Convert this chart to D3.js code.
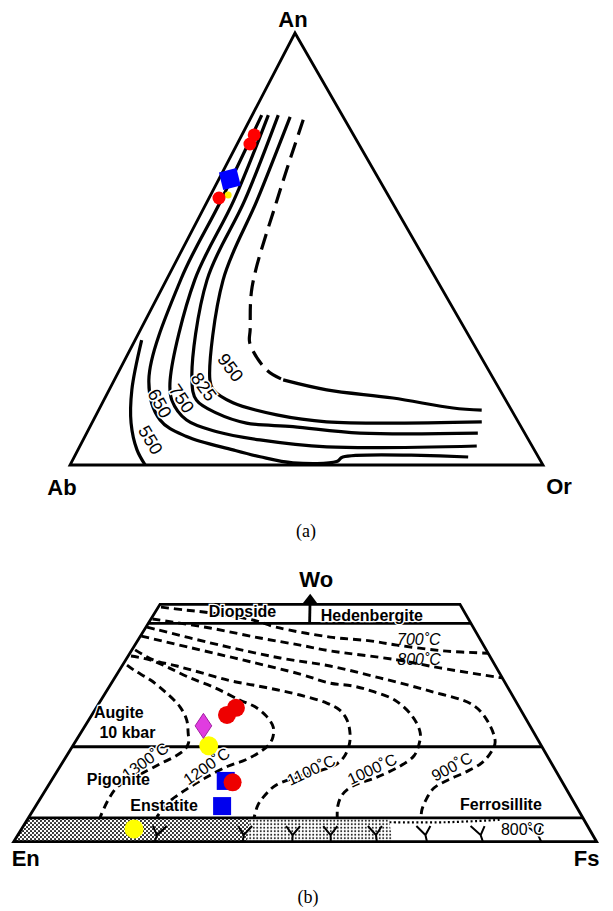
<!DOCTYPE html>
<html>
<head>
<meta charset="utf-8">
<script src="https://cdn.jsdelivr.net/npm/d3@7/dist/d3.min.js"></script>
<style>
  body { margin: 0; background: #fff; }
  svg text { font-family: "Liberation Sans", Arial, sans-serif; fill: #000; }
</style>
</head>
<body>
<svg id="chart" width="613" height="911"></svg>
<script>
const WIDTH = 613;
const HEIGHT = 911;

// ---------- (a) feldspar ternary, points are [An %, Or %] ----------
const feldsparVertices = [[100, 0], [0, 0], [0, 100]];
const feldsparCorners = ['An', 'Ab', 'Or'];

const isoShort = [[28.9, 1.4], [17.4, 4.8], [9.7, 8.3], [3.5, 12.5], [0, 15.9]];
const isoA = [[81, 2], [61, 2.8], [43, 3], [19.7, 7.3], [10.4, 14.1], [6.6, 21.5], [3.5, 32.8],
              [1.9, 39.3], [0.5, 46.9], [0.8, 56], [1.85, 56.8], [1.85, 83.3]];
const isoB = [[81, 3.4], [61.3, 5.5], [42.8, 6.0], [19.7, 11.8], [15, 14.4], [10.4, 19.7],
              [7.7, 27.4], [5.8, 37.4], [4.2, 52.3], [4.4, 83.9]];
const isoC = [[81, 5.5], [61.3, 7.8], [42.8, 8.6], [19.7, 16.4], [15, 19.6], [12, 25.3],
              [9.7, 32.7], [8.9, 42.9], [7.4, 57.8], [7.4, 82.7]];
const isoD = [[80.6, 8.2], [61.3, 10.4], [42.8, 12], [19.7, 20.2], [17.4, 22], [14.4, 27.6],
              [11.6, 38.2], [10, 49.5], [10, 82.3]];
const isoEDashed = [[79.9, 11.3], [61.3, 14.6], [41.2, 18.9], [31.3, 23.2], [28.2, 24.6],
                    [22, 31.1], [19.7, 35.7]];
const isoESolid = [[19.7, 35.7], [17.4, 46], [15.5, 60.9], [13.2, 74.7], [12.7, 81]];

const feldsparLabels = ['550', '650', '750', '825', '950'];
const feldsparLabelPos = [[5.8, 14.3], [14.3, 12.2], [15.4, 16.3], [18.1, 19.7], [22.6, 23.2]];

const plagRed = [[76.4, 2.6], [74.3, 2.7], [61.8, 2.1]];
const plagBlue = [[66.2, 2.3]];
const plagYellow = [[62.5, 3.7]];

// ---------- (b) pyroxene quadrilateral, points are [Wo %, Fs# %] ----------
const pyxOutline = [[0, 0], [50, 0], [50, 100], [0, 100]];
const woLines = [5, 20, 46];
const pyxCorners = ['En', 'Fs', 'Wo'];

const iso700 = [[49.4, 0.9], [48.8, 9.3], [48.2, 17.8], [46.7, 32.2], [45.2, 39.7], [43.1, 56.1],
                [42.3, 67.7], [41.4, 75.2], [40.2, 87.7], [39.7, 100]];
const iso800 = [[46.9, 0.5], [45, 19.7], [42.9, 35.5], [41.4, 47.4], [40.2, 55.9], [38.3, 74.1],
                [36.6, 84.9], [34.5, 100]];
const iso900 = [[45.2, 0.3], [41.4, 24.4], [38.7, 42.1], [37, 55.7], [34.5, 68.4], [31.7, 80.2],
                [28.8, 89.3], [25.2, 91.0], [21, 90.5], [18.9, 88.7], [16.6, 85.8], [14.7, 81.9],
                [13, 77.8], [11.3, 74.6], [8.8, 72.5], [6.7, 71.3], [5, 70.8]];
const iso1000 = [[43.3, 0.3], [40.4, 19.2], [37.9, 34.1], [35.3, 47.8], [33.4, 55.5], [32.8, 61.2],
                 [31.7, 65.8], [29.8, 71], [26.3, 74.2], [22.9, 74.9], [20.4, 73.9], [18.1, 72.3],
                 [15.9, 68.9], [13.4, 63.5], [11.7, 58.9], [9.8, 56.8], [7.5, 55.9], [5, 55.7]];
const iso1100 = [[40.4, 0.9], [38.3, 7.5], [37, 14.7], [35.5, 22.3], [33.9, 30], [33, 36], [32, 42.2],
                 [30.9, 48], [29.2, 54.5], [27.7, 57.5], [25.6, 59], [22.9, 59.4], [20.4, 59],
                 [17.6, 57.5], [15.9, 55.3], [13.8, 48.7], [11.9, 44.1], [9.8, 42.2], [7.7, 41.1], [5, 40.7]];
const iso1200 = [[39.1, 0.8], [38.3, 6.6], [36.8, 12.2], [34.7, 18.8], [32.6, 26.1], [29.8, 33.6],
                 [28.4, 37.5], [26.5, 40.4], [24.2, 42.3], [22.1, 42.5], [20.4, 41.8], [18.9, 40.1],
                 [17.2, 37.3], [15.9, 34], [13.4, 30], [10.7, 26.6], [8.2, 24.3], [5.2, 23.1]];
const iso1300 = [[37.2, 1.2], [36, 4.2], [34.1, 9.4], [31.3, 15.1], [28.4, 19.7], [25.6, 22.4],
                 [22.9, 23.7], [20.8, 24.5], [19.5, 24.2], [18.1, 22.8], [16.4, 20.1], [13.6, 16.1],
                 [11.7, 13.6], [8.8, 12.9], [5, 12.9]];

const tempLabels = ['700˚C', '800˚C', '900˚C', '1000˚C', '1100˚C', '1200˚C', '1300˚C', '800˚C'];
const tempLabelPos = [[42.7, 82.1], [38.3, 80.1], [15.8, 79.4], [15.3, 63.2], [15.1, 50.9],
                      [15.9, 29.7], [17, 16.8], [2.5, 88.2]];

const regionNames = ['Diopside', 'Hedenbergite', 'Augite', '10 kbar', 'Pigonite', 'Enstatite', 'Ferrosillite'];
const regionPos = [[48.4, 28.2], [47.6, 69.8], [27.3, 5.9], [23.1, 10.2], [13.2, 13.0], [7.7, 23.7], [7.8, 86.2]];

const bandDense = [0, 40];
const bandLight = [40, 65];
const bandDotted = [65, 85];
const yMarks = [24.2, 39.3, 47.8, 54.4, 62.3, 70.9, 80.5, 90.5];

const pyxRed = [[26.7, 31.3], [28.2, 33.0], [12.5, 35.6]];
const pyxBlue = [[12.8, 34.2], [7.5, 34.5]];
const pyxYellow = [[20.2, 29.0], [2.7, 19.8]];
const pyxMagenta = [[24.4, 26.6]];

const svg = d3.select('#chart');

// ---------- scales ----------
// (a) An runs up the page, Or along the base, the apex leans left a little
const anY = d3.scaleLinear().domain([0, 100]).range([465, 33]);
const orX = d3.scaleLinear().domain([0, 100]).range([70, 543]);
const anLean = d3.scaleLinear().domain([0, 100]).range([0, 225]);
function tern(p) {
  return [orX(p[1]) + anLean(p[0]), anY(p[0])];
}

// (b) Wo runs up the page, Fs# across between the two slanted sides
const woY = d3.scaleLinear().domain([0, 50]).range([841.7, 604.3]);
const leftX = d3.scaleLinear().domain([0, 50]).range([13.7, 160]);
const rightX = d3.scaleLinear().domain([0, 50]).range([596.6, 460]);
function quad(p) {
  const l = leftX(p[0]);
  const r = rightX(p[0]);
  return [l + (r - l) * p[1] / 100, woY(p[0])];
}

const smooth = d3.curveCatmullRom.alpha(0.5);
const ternLine = d3.line().x(d => tern(d)[0]).y(d => tern(d)[1]).curve(smooth);
const quadLine = d3.line().x(d => quad(d)[0]).y(d => quad(d)[1]).curve(smooth);
const quadPoly = d3.line().x(d => quad(d)[0]).y(d => quad(d)[1]);

// ---------- (a) ----------
const gA = svg.append('g');

gA.append('path')
  .attr('d', d3.line().x(d => tern(d)[0]).y(d => tern(d)[1])(feldsparVertices) + 'Z')
  .attr('fill', 'none')
  .attr('stroke', '#000')
  .attr('stroke-width', 2.8)
  .attr('stroke-linejoin', 'miter');

[isoShort, isoA, isoB, isoC, isoD, isoESolid].forEach(c => {
  gA.append('path')
    .attr('d', ternLine(c))
    .attr('fill', 'none')
    .attr('stroke', '#000')
    .attr('stroke-width', 3.2);
});
gA.append('path')
  .attr('d', ternLine(isoEDashed))
  .attr('fill', 'none')
  .attr('stroke', '#000')
  .attr('stroke-width', 3.2)
  .attr('stroke-dasharray', '16,8');

const featherAngles = [59, 61, 56, 54, 53];
gA.selectAll('text.iso')
  .data(feldsparLabels)
  .enter()
  .append('text')
  .attr('class', 'iso')
  .attr('transform', (d, i) => {
    const p = tern(feldsparLabelPos[i]);
    return 'translate(' + p[0] + ',' + p[1] + ') rotate(' + featherAngles[i] + ')';
  })
  .attr('text-anchor', 'middle')
  .attr('dy', '0.35em')
  .attr('font-size', 18)
  .attr('stroke', '#fff')
  .attr('stroke-width', 3)
  .attr('paint-order', 'stroke')
  .text(d => d);

// plotted plagioclase analyses
gA.selectAll('circle.py')
  .data(plagYellow)
  .enter()
  .append('circle')
  .attr('cx', d => tern(d)[0])
  .attr('cy', d => tern(d)[1])
  .attr('r', 3.5)
  .attr('fill', '#ffee00');
gA.selectAll('circle.pr')
  .data(plagRed)
  .enter()
  .append('circle')
  .attr('cx', d => tern(d)[0])
  .attr('cy', d => tern(d)[1])
  .attr('r', 6.5)
  .attr('fill', '#ff0000');
gA.selectAll('rect.pb')
  .data(plagBlue)
  .enter()
  .append('rect')
  .attr('x', -9)
  .attr('y', -9)
  .attr('width', 18)
  .attr('height', 18)
  .attr('transform', d => 'translate(' + tern(d)[0] + ',' + tern(d)[1] + ') rotate(-14)')
  .attr('fill', '#0000ff');

const cornerOffsets = [[-2, -6], [-8, 30], [16, 29]];
gA.selectAll('text.corner')
  .data(feldsparCorners)
  .enter()
  .append('text')
  .attr('x', (d, i) => tern(feldsparVertices[i])[0] + cornerOffsets[i][0])
  .attr('y', (d, i) => tern(feldsparVertices[i])[1] + cornerOffsets[i][1])
  .attr('text-anchor', 'middle')
  .attr('font-size', 22)
  .attr('font-weight', 'bold')
  .text(d => d);

svg.append('text')
  .attr('x', 306)
  .attr('y', 537)
  .attr('text-anchor', 'middle')
  .style('font-family', '"Liberation Serif", "DejaVu Serif", serif')
  .attr('font-size', 18)
  .text('(a)');

// ---------- (b) ----------
const gB = svg.append('g');

// stippled band along the En-Fs join
const defs = svg.append('defs');
const dense = defs.append('pattern')
  .attr('id', 'dense')
  .attr('width', 4)
  .attr('height', 4)
  .attr('patternUnits', 'userSpaceOnUse');
dense.append('circle').attr('cx', 1).attr('cy', 1).attr('r', 1.05).attr('fill', '#222');
dense.append('circle').attr('cx', 3).attr('cy', 3).attr('r', 1.05).attr('fill', '#222');
const light = defs.append('pattern')
  .attr('id', 'light')
  .attr('width', 3.5)
  .attr('height', 3.5)
  .attr('patternUnits', 'userSpaceOnUse');
light.append('circle').attr('cx', 1.75).attr('cy', 1.75).attr('r', 1).attr('fill', '#222');

function bandZone(range) {
  return [[0, range[0]], [5, range[0]], [5, range[1]], [0, range[1]]];
}
gB.append('path')
  .attr('d', quadPoly(bandZone(bandDense)) + 'Z')
  .attr('fill', 'url(#dense)');
gB.append('path')
  .attr('d', quadPoly(bandZone(bandLight)) + 'Z')
  .attr('fill', 'url(#light)');
gB.append('path')
  .attr('d', quadLine([[4.1, bandDotted[0]], [4.1, (bandDotted[0] + bandDotted[1]) / 2], [4.6, bandDotted[1]]]))
  .attr('fill', 'none')
  .attr('stroke', '#000')
  .attr('stroke-width', 2.2)
  .attr('stroke-dasharray', '2,2.5');

// small Y marks standing on the base
yMarks.forEach(f => {
  const b = quad([0, f]);
  const j = quad([1.4, f]);
  const t = quad([3.3, f]);
  gB.append('path')
    .attr('d', 'M' + b[0] + ',' + b[1] + 'L' + j[0] + ',' + j[1] +
               'L' + (t[0] - 7) + ',' + t[1] + 'M' + j[0] + ',' + j[1] + 'L' + (t[0] + 7) + ',' + t[1])
    .attr('fill', 'none')
    .attr('stroke', '#000')
    .attr('stroke-width', 2);
});

// outline, dividing lines and the Di-Hd split
gB.append('path')
  .attr('d', quadPoly(pyxOutline) + 'Z')
  .attr('fill', 'none')
  .attr('stroke', '#000')
  .attr('stroke-width', 2.8);
woLines.forEach(w => {
  gB.append('path')
    .attr('d', quadPoly([[w, 0], [w, 100]]))
    .attr('stroke', '#000')
    .attr('stroke-width', 2.8);
});
gB.append('path')
  .attr('d', quadPoly([[46, 50], [51, 50]]))
  .attr('stroke', '#000')
  .attr('stroke-width', 2.8);
const tip = quad([52.2, 50]);
const headBase = quad([50, 50]);
gB.append('path')
  .attr('d', 'M' + tip[0] + ',' + tip[1] + 'L' + (headBase[0] - 8) + ',' + headBase[1] +
             'L' + (headBase[0] + 8) + ',' + headBase[1] + 'Z')
  .attr('fill', '#000');

// isotherms
[iso700, iso800, iso900, iso1000, iso1100, iso1200, iso1300].forEach(c => {
  gB.append('path')
    .attr('d', quadLine(c))
    .attr('fill', 'none')
    .attr('stroke', '#000')
    .attr('stroke-width', 2.9)
    .attr('stroke-dasharray', '8,5');
});

const tempAngles = [0, 0, -28, -25, -25, -35, -35, 0];
gB.selectAll('text.temp')
  .data(tempLabels)
  .enter()
  .append('text')
  .attr('transform', (d, i) => {
    const p = quad(tempLabelPos[i]);
    return 'translate(' + p[0] + ',' + p[1] + ') rotate(' + tempAngles[i] + ')';
  })
  .attr('text-anchor', 'middle')
  .attr('dy', '0.35em')
  .attr('font-size', 16)
  .attr('font-style', (d, i) => i < 2 ? 'italic' : 'normal')
  .attr('stroke', (d, i) => i < 2 ? 'none' : '#fff')
  .attr('stroke-width', 3)
  .attr('paint-order', 'stroke')
  .text(d => d);

gB.selectAll('text.region')
  .data(regionNames)
  .enter()
  .append('text')
  .attr('x', (d, i) => quad(regionPos[i])[0])
  .attr('y', (d, i) => quad(regionPos[i])[1])
  .attr('text-anchor', 'middle')
  .attr('dy', '0.35em')
  .attr('font-size', 16)
  .attr('font-weight', 'bold')
  .attr('stroke', '#fff')
  .attr('stroke-width', 2.5)
  .attr('paint-order', 'stroke')
  .text(d => d);

// plotted pyroxene analyses
gB.selectAll('rect.blue')
  .data(pyxBlue)
  .enter()
  .append('rect')
  .attr('x', d => quad(d)[0] - 9)
  .attr('y', d => quad(d)[1] - 9)
  .attr('width', 18)
  .attr('height', 18)
  .attr('fill', '#0000ee');
gB.selectAll('circle.red')
  .data(pyxRed)
  .enter()
  .append('circle')
  .attr('cx', d => quad(d)[0])
  .attr('cy', d => quad(d)[1])
  .attr('r', 9)
  .attr('fill', '#ee0000');
gB.selectAll('circle.yellow')
  .data(pyxYellow)
  .enter()
  .append('circle')
  .attr('cx', d => quad(d)[0])
  .attr('cy', d => quad(d)[1])
  .attr('r', 9.5)
  .attr('fill', '#ffff00');
gB.selectAll('path.diamond')
  .data(pyxMagenta)
  .enter()
  .append('path')
  .attr('d', d => {
    const p = quad(d);
    return 'M' + p[0] + ',' + (p[1] - 12.5) + 'L' + (p[0] + 8.3) + ',' + p[1] +
           'L' + p[0] + ',' + (p[1] + 12.5) + 'L' + (p[0] - 8.3) + ',' + p[1] + 'Z';
  })
  .attr('fill', '#e03ce0')
  .attr('stroke', '#a020a0')
  .attr('stroke-width', 1);

const pyxCornerPts = [quad([0, 0]), quad([0, 100]), tip];
const pyxCornerOffsets = [[12, 24], [-10, 24], [6, -7]];
gB.selectAll('text.corner')
  .data(pyxCorners)
  .enter()
  .append('text')
  .attr('x', (d, i) => pyxCornerPts[i][0] + pyxCornerOffsets[i][0])
  .attr('y', (d, i) => pyxCornerPts[i][1] + pyxCornerOffsets[i][1])
  .attr('text-anchor', 'middle')
  .attr('font-size', 22)
  .attr('font-weight', 'bold')
  .text(d => d);

svg.append('text')
  .attr('x', 308)
  .attr('y', 903)
  .attr('text-anchor', 'middle')
  .style('font-family', '"Liberation Serif", "DejaVu Serif", serif')
  .attr('font-size', 18)
  .text('(b)');
</script>
</body>
</html>
